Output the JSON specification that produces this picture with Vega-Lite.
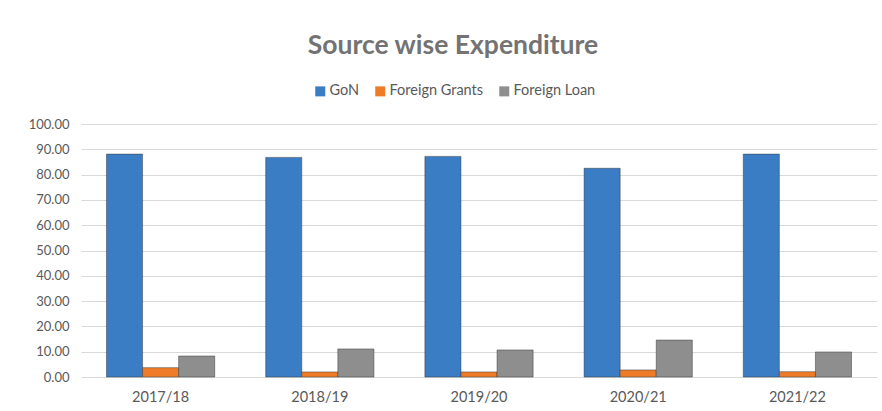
{
  "$schema": "https://vega.github.io/schema/vega-lite/v6.json",
  "width": 796,
  "height": 253,
  "padding": {"left": 28, "top": 32, "right": 6, "bottom": 2},
  "background": "white",
  "title": {
    "text": "Source wise Expenditure",
    "font": "Lato",
    "fontSize": 26.5,
    "fontWeight": "bold",
    "color": "#737373",
    "anchor": "middle",
    "dx": -26,
    "offset": 25
  },
  "data": {
    "values": [
      {"year": "2017/18", "source": "GoN", "value": 88.1},
      {"year": "2017/18", "source": "Foreign Grants", "value": 3.7},
      {"year": "2017/18", "source": "Foreign Loan", "value": 8.3},
      {"year": "2018/19", "source": "GoN", "value": 86.8},
      {"year": "2018/19", "source": "Foreign Grants", "value": 2.0},
      {"year": "2018/19", "source": "Foreign Loan", "value": 11.1},
      {"year": "2019/20", "source": "GoN", "value": 87.2},
      {"year": "2019/20", "source": "Foreign Grants", "value": 2.0},
      {"year": "2019/20", "source": "Foreign Loan", "value": 10.7},
      {"year": "2020/21", "source": "GoN", "value": 82.5},
      {"year": "2020/21", "source": "Foreign Grants", "value": 2.8},
      {"year": "2020/21", "source": "Foreign Loan", "value": 14.6},
      {"year": "2021/22", "source": "GoN", "value": 88.1},
      {"year": "2021/22", "source": "Foreign Grants", "value": 2.1},
      {"year": "2021/22", "source": "Foreign Loan", "value": 9.9}
    ]
  },
  "mark": {"type": "bar", "stroke": "#2f2f2f", "strokeOpacity": 0.45, "strokeWidth": 1},
  "encoding": {
    "x": {
      "field": "year",
      "type": "nominal",
      "scale": {"paddingInner": 0.32, "paddingOuter": 0.16},
      "axis": {
        "title": null,
        "labelAngle": 0,
        "domain": false,
        "ticks": false,
        "labelPadding": 13,
        "labelFont": "Lato",
        "labelFontSize": 14.5,
        "labelColor": "#595959"
      }
    },
    "xOffset": {
      "field": "source",
      "type": "nominal",
      "sort": ["GoN", "Foreign Grants", "Foreign Loan"],
      "scale": {"paddingInner": 0, "paddingOuter": 0}
    },
    "y": {
      "field": "value",
      "type": "quantitative",
      "scale": {"domain": [0, 100], "nice": false},
      "axis": {
        "title": null,
        "values": [0, 10, 20, 30, 40, 50, 60, 70, 80, 90, 100],
        "format": ".2f",
        "domain": false,
        "ticks": false,
        "labelPadding": 12,
        "labelFont": "Lato",
        "labelFontSize": 13,
        "labelColor": "#595959",
        "gridColor": "#d9d9d9",
        "gridWidth": 1
      }
    },
    "color": {
      "field": "source",
      "type": "nominal",
      "sort": ["GoN", "Foreign Grants", "Foreign Loan"],
      "scale": {
        "domain": ["GoN", "Foreign Grants", "Foreign Loan"],
        "range": ["#3b7dc4", "#ee7b28", "#8e8e8e"]
      },
      "legend": {
        "title": null,
        "orient": "none",
        "legendX": 232,
        "legendY": -40,
        "direction": "horizontal",
        "symbolType": "square",
        "symbolSize": 100,
        "symbolStrokeWidth": 0,
        "labelFont": "Lato",
        "labelFontSize": 14.5,
        "labelColor": "#595959",
        "columnPadding": 13,
        "labelOffset": 2
      }
    }
  },
  "config": {
    "view": {"stroke": null}
  }
}
